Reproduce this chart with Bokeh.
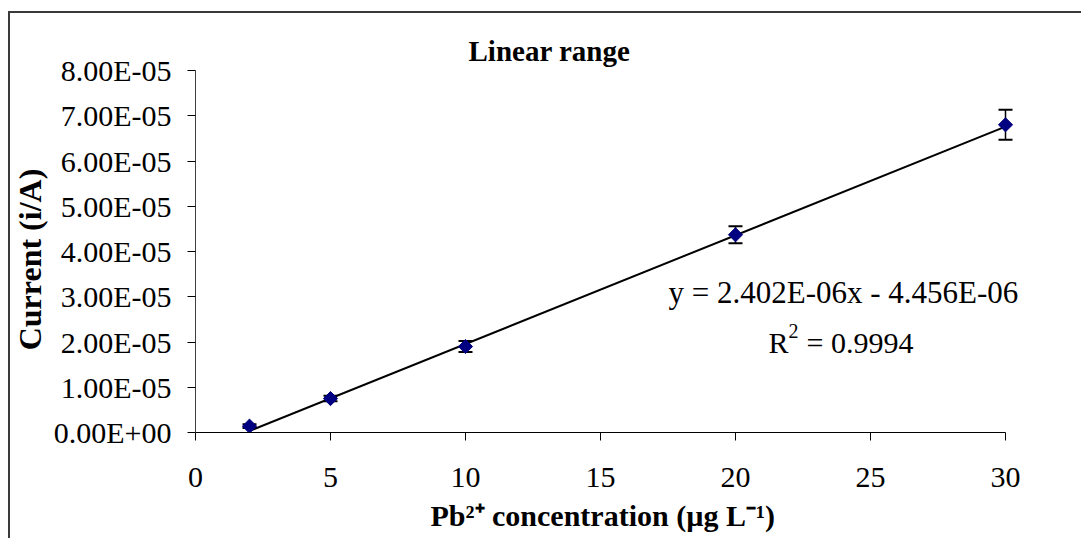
from bokeh.plotting import figure
from bokeh.models import (ColumnDataSource, Whisker, TeeHead, Label, FixedTicker,
                          CustomJSTickFormatter, Range1d)
from bokeh.embed import file_html
from bokeh.resources import INLINE

# ---- data ----
conc = [2, 5, 10, 20, 30]
current = [1.4e-6, 7.5e-6, 1.9e-5, 4.37e-5, 6.8e-5]
current_err = [0.4e-6, 0.6e-6, 1.2e-6, 1.9e-6, 3.3e-6]
fit_slope = 2.402e-6
fit_intercept = -4.456e-6
x_ticks = [0, 5, 10, 15, 20, 25, 30]
y_ticks = [0, 1e-5, 2e-5, 3e-5, 4e-5, 5e-5, 6e-5, 7e-5, 8e-5]
y_tick_labels = ["0.00E+00", "1.00E-05", "2.00E-05", "3.00E-05", "4.00E-05",
                 "5.00E-05", "6.00E-05", "7.00E-05", "8.00E-05"]
title_text = "Linear range"
xlabel_text = "Pb\u00b2\u207a concentration (\u00b5g L\u207b\u00b9)"
ylabel_text = "Current (i/A)"
eq_text = "y = 2.402E-06x - 4.456E-06"
r2_value = "0.9994"

FONT = "Liberation Serif"
W, H = 1081, 538
LEFT, RIGHT_PX, TOP, BOTTOM_PX = 195, 1032, 70, 432
NBSP = "\u00a0"

p = figure(width=W, height=H, output_backend="svg", toolbar_location=None,
           x_range=Range1d(0, 31), y_range=Range1d(0, 8e-5),
           min_border_left=LEFT, min_border_right=W - RIGHT_PX,
           min_border_top=TOP, min_border_bottom=H - BOTTOM_PX)
p.border_fill_color = None
p.background_fill_color = None
p.outline_line_color = None
p.grid.visible = False
p.styles = {
    "background-image": "linear-gradient(#3a3a3a,#3a3a3a), linear-gradient(#3a3a3a,#3a3a3a)",
    "background-size": "2px 100%, 100% 2px",
    "background-position": "8px 11px, 8px 11px",
    "background-repeat": "no-repeat",
    "background-color": "white",
}

# title
p.title.text = title_text
p.title.text_font = FONT
p.title.text_font_size = "29px"
p.title.text_font_style = "bold"
p.title.text_color = "black"
p.title.align = "left"
p.title.offset = 468 - LEFT
p.title.standoff = 8

# px -> data helpers (for text placement inside the plot area)
def dx(px):
    return (px - LEFT) / (RIGHT_PX - LEFT) * 31

def dy(py):
    return (BOTTOM_PX - py) / (BOTTOM_PX - TOP) * 8e-5

# axes
xa = p.xaxis[0]
xa.ticker = FixedTicker(ticks=x_ticks)
xa.bounds = (0, 30)
ya = p.yaxis[0]
ya.ticker = FixedTicker(ticks=y_ticks)
ya.formatter = CustomJSTickFormatter(args=dict(labels=y_tick_labels),
                                     code="return labels[Math.round(tick/1e-5)];")
for ax in (xa, ya):
    ax.axis_line_color = "black"
    ax.axis_line_width = 1
    ax.major_tick_line_color = "black"
    ax.major_tick_out = 8
    ax.major_tick_in = 0
    ax.minor_tick_line_color = None
    ax.major_label_text_font = FONT
    ax.major_label_text_font_size = "30px"
    ax.major_label_text_color = "black"
    ax.axis_label_text_font = FONT
    ax.axis_label_text_font_style = "bold"
    ax.axis_label_text_color = "black"
xa.axis_label_text_font_size = "30px"
ya.axis_label_text_font_size = "32px"
ya.axis_line_color = "#404040"
xa.major_label_standoff = 27
ya.major_label_standoff = 16
# trailing no-break spaces nudge the centred labels to match the reference placement
xa.axis_label = xlabel_text + NBSP * 3
ya.axis_label = ylabel_text + NBSP * 2
xa.axis_label_standoff = 9
ya.axis_label_standoff = 3

# data
src = ColumnDataSource(dict(x=conc, y=current,
                            lo=[c - e for c, e in zip(current, current_err)],
                            hi=[c + e for c, e in zip(current, current_err)]))
fit_x = [conc[0], conc[-1]]
fit_y = [fit_slope * v + fit_intercept for v in fit_x]
p.line(fit_x, fit_y, line_color="black", line_width=2)
wh = Whisker(source=src, base="x", upper="hi", lower="lo", line_color="black", line_width=1.5,
             upper_head=TeeHead(size=14, line_color="black", line_width=2),
             lower_head=TeeHead(size=14, line_color="black", line_width=2))
p.add_layout(wh)
p.scatter("x", "y", source=src, marker="square", angle=0.785398, size=10,
          fill_color="#000080", line_color="#000080")

# texts inside the plot area
def lab(text, px, py, size, align="left", baseline="alphabetic"):
    p.add_layout(Label(x=dx(px), y=dy(py), text=text, text_font=FONT,
                       text_font_size=f"{size}px", text_align=align,
                       text_baseline=baseline, text_color="black"))

lab(eq_text, 668, 292, 31)
lab("R", 768, 342, 30)
lab("2", 788, 330, 20)
lab("= " + r2_value, 806, 342, 30)

open("out.html", "w").write(file_html(p, INLINE))
